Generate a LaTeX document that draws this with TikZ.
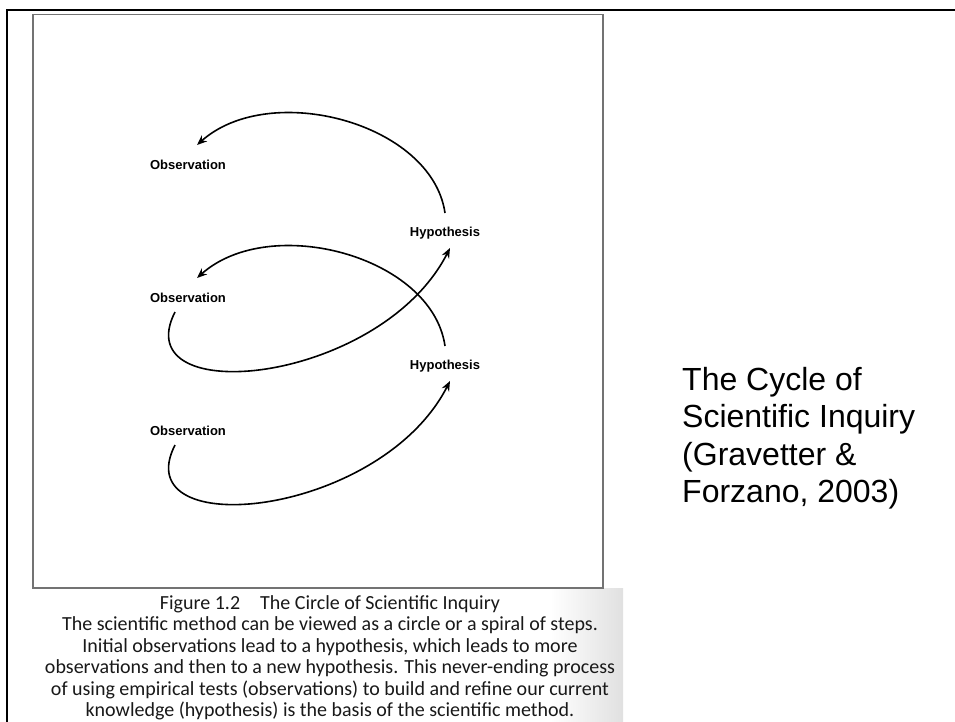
\documentclass[tikz,border=0pt]{standalone}
\usepackage{fontspec}
\setmainfont{Liberation Sans}
\newfontfamily\capfont{Carlito}
\usetikzlibrary{arrows.meta}
\begin{document}
\begin{tikzpicture}[>={Stealth[length=10pt,width=8pt]},x=1pt,y=-1pt,
    stage/.style={font=\bfseries\fontsize{13}{15}\selectfont,inner sep=0pt},
    curvearrow/.style={->,line width=1.6pt}]
    \useasboundingbox (0,0) rectangle (955,722);
    \fill[white] (0,0) rectangle (955,722);
    \draw[line width=2pt] (7,722) -- (7,10) -- (955,10);
    \shade[left color=white,right color=black!12] (550,588) rectangle (623,722);
    \draw[black!55,line width=1.2pt] (33,14.5) rectangle (603,588);
    \node[stage] (o1) at (188,165) {Observation};
    \node[stage] (h1) at (445,233) {Hypothesis};
    \node[stage] (o2) at (188,298) {Observation};
    \node[stage] (h2) at (445,366) {Hypothesis};
    \node[stage] (o3) at (188,431) {Observation};
    \draw[curvearrow] ([shift={(0,-20)}]h1.center) .. controls +(-13,-90) and +(73,-65) .. ([shift={(9,-20)}]o1.center);
    \draw[curvearrow] ([shift={(0,-20)}]h2.center) .. controls +(-13,-90) and +(73,-65) .. ([shift={(9,-20)}]o2.center);
    \draw[curvearrow] ([shift={(-13,14)}]o2.center) .. controls +(-50,98) and +(-70,137) .. ([shift={(5,15)}]h1.center);
    \draw[curvearrow] ([shift={(-13,14)}]o3.center) .. controls +(-50,98) and +(-70,137) .. ([shift={(5,15)}]h2.center);
    \node[font=\capfont\fontsize{20}{21.5}\selectfont,text=black!90,align=center,anchor=base,inner sep=0pt] (cap) at (330,716.5)
        {Figure 1.2\quad The Circle of Scientific Inquiry\\
        The scientific method can be viewed as a circle or a spiral of steps.\\
        Initial observations lead to a hypothesis, which leads to more\\
        observations and then to a new hypothesis. This never-ending process\\
        of using empirical tests (observations) to build and refine our current\\
        knowledge (hypothesis) is the basis of the scientific method.};
    \node[font=\fontsize{32}{37.5}\selectfont,align=left,anchor=base west,inner sep=0pt] (title) at (682,502.5)
        {The Cycle of\\Scientific Inquiry\\(Gravetter \&\\Forzano, 2003)};
\end{tikzpicture}
\end{document}
